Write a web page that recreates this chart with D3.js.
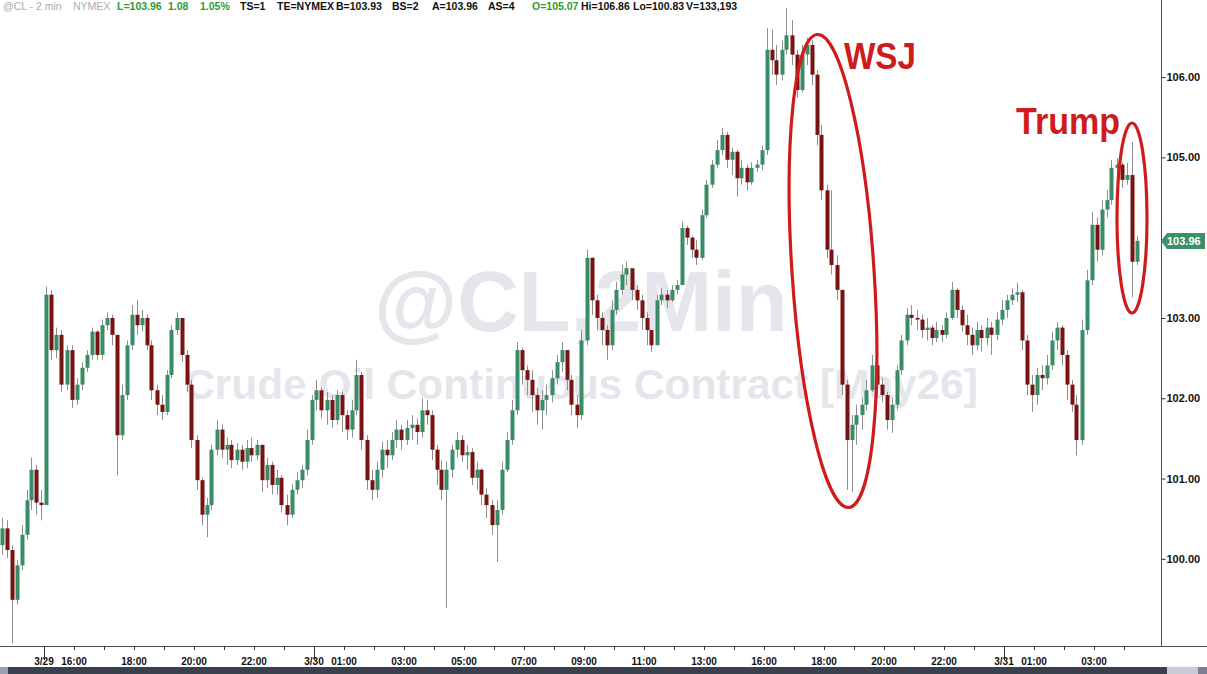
<!DOCTYPE html>
<html>
<head>
<meta charset="utf-8">
<script src="https://cdn.jsdelivr.net/npm/d3@7"></script>
<style>
  html, body { margin: 0; padding: 0; background: #fff; }
  svg { display: block; font-family: "Liberation Sans", Arial, sans-serif; }
</style>
</head>
<body>
<svg id="chart" width="1207" height="674"></svg>
<script>
// ---------- DATA (10-minute bars) ----------
const firstOpen = 100.17;
const closes = [
100.38,100.11,99.49,99.92,100.30,100.73,101.11,100.70,100.67,103.29,
102.60,102.79,102.17,102.60,101.98,102.17,102.38,102.54,102.83,102.54,
102.91,103.00,102.79,101.54,102.04,102.66,103.04,102.91,103.00,102.66,
102.10,101.92,101.83,102.29,102.85,103.00,102.54,102.17,101.48,100.98,
100.55,100.67,101.36,101.61,101.36,101.42,101.23,101.36,101.21,101.38,
101.29,101.42,100.98,101.17,100.92,101.01,100.67,100.55,100.86,100.98,
101.11,101.48,101.98,102.10,101.85,101.98,101.73,102.04,101.79,101.61,
101.85,102.29,101.48,100.98,100.86,101.11,101.36,101.29,101.48,101.61,
101.48,101.63,101.67,101.58,101.85,101.79,101.36,101.11,100.86,101.11,
101.36,101.48,101.29,101.33,101.01,101.11,100.80,100.67,100.42,100.61,
101.11,101.48,101.85,102.60,102.35,102.23,102.04,101.85,101.98,102.04,
102.25,102.45,102.60,102.23,101.92,101.79,102.72,103.75,103.22,103.00,
102.85,102.66,103.10,103.35,103.54,103.62,103.35,103.22,103.00,102.85,
102.66,103.22,103.29,103.22,103.35,103.41,104.12,104.00,103.85,103.75,
104.28,104.66,104.91,105.09,105.28,104.97,105.07,104.74,104.87,104.69,
104.87,104.91,105.09,106.34,106.21,106.03,106.34,106.52,106.28,105.84,
106.28,106.40,106.03,105.28,104.59,103.85,103.66,103.35,102.17,101.48,
101.67,101.79,101.92,102.10,102.41,102.17,102.04,101.73,101.92,102.35,
102.72,103.04,103.00,102.98,102.85,102.88,102.75,102.85,102.79,103.00,
103.35,103.10,102.91,102.79,102.66,102.85,102.75,102.88,102.79,102.98,
103.10,103.22,103.29,103.32,102.72,102.17,102.04,102.29,102.25,102.41,
102.72,102.88,102.54,102.17,101.92,101.48,102.85,103.47,104.16,103.85,
104.35,104.47,104.87,104.91,104.72,104.78,103.70,103.96
];
const highs = [
100.51,100.48,100.17,99.99,100.42,100.86,101.26,101.17,100.86,103.39,
103.35,102.88,102.85,102.66,102.66,102.25,102.45,102.60,102.88,102.85,
102.98,103.07,103.04,102.79,102.17,102.72,103.16,103.22,103.10,103.04,
102.72,102.17,102.04,102.35,102.91,103.07,102.98,102.60,102.23,101.54,
101.01,100.76,101.42,101.73,101.67,101.51,101.48,101.44,101.42,101.48,
101.51,101.48,101.42,101.26,101.21,101.11,101.04,100.80,100.93,101.08,
101.17,101.61,102.04,102.23,102.13,102.08,102.04,102.10,102.08,101.85,
101.98,102.48,102.33,101.54,101.11,101.21,101.46,101.48,101.58,101.73,
101.67,101.73,101.79,101.75,102.00,101.98,101.85,101.42,101.23,101.21,
101.42,101.58,101.54,101.42,101.38,101.21,101.13,100.88,100.73,100.73,
101.21,101.58,101.98,102.70,102.63,102.41,102.35,102.13,102.10,102.17,
102.35,102.54,102.70,102.60,102.29,102.04,102.85,103.85,103.70,103.29,
103.07,102.91,103.22,103.45,103.66,103.70,103.60,103.41,103.29,103.07,
102.85,103.29,103.37,103.35,103.41,103.47,104.20,104.15,104.02,103.97,
104.35,104.72,104.97,105.22,105.37,105.32,105.12,105.09,104.97,104.91,
104.94,104.97,105.15,106.61,106.59,106.40,106.46,106.86,106.71,106.34,
106.40,106.49,106.46,106.09,105.40,104.66,104.59,103.78,103.35,102.23,
101.79,101.92,102.00,102.23,102.54,102.48,102.25,102.08,102.00,102.41,
102.79,103.12,103.16,103.10,103.04,103.00,102.91,102.95,102.91,103.07,
103.45,103.37,103.16,103.04,102.88,102.95,102.91,103.00,102.95,103.07,
103.22,103.29,103.37,103.44,103.35,102.79,102.29,102.38,102.41,102.54,
102.83,102.95,102.91,102.60,102.23,102.04,102.98,103.60,104.32,104.25,
104.47,104.59,104.97,104.99,104.94,104.93,105.19,104.02
];
const lows = [
100.05,100.01,98.95,99.43,99.86,100.24,100.61,100.55,100.48,100.67,
102.48,102.50,102.08,102.10,101.88,101.92,102.10,102.33,102.48,102.48,
102.48,102.85,102.66,101.04,101.48,101.98,102.60,102.79,102.83,102.60,
101.98,101.79,101.73,101.79,102.25,102.79,102.45,102.08,101.38,100.86,
100.42,100.27,100.61,101.29,101.26,101.17,101.13,101.17,101.11,101.13,
101.21,101.23,100.83,100.88,100.80,100.80,100.58,100.42,100.51,100.80,
100.88,101.04,101.42,101.85,101.75,101.67,101.63,101.67,101.58,101.48,
101.51,101.79,101.36,100.86,100.73,100.76,101.01,101.13,101.23,101.38,
101.36,101.42,101.48,101.42,101.51,101.67,101.23,100.92,100.73,99.39,
101.01,101.26,101.21,101.11,100.92,100.86,100.67,100.51,100.30,99.96,
100.55,101.08,101.42,101.79,102.17,102.04,101.83,101.67,101.61,101.79,
101.95,102.17,102.33,102.10,101.79,101.63,101.73,102.66,103.04,102.85,
102.66,102.48,102.60,103.04,103.29,103.41,103.22,103.10,102.85,102.66,
102.58,102.79,103.16,103.12,103.20,103.29,103.41,103.91,103.75,103.66,
103.72,104.25,104.62,104.87,105.03,104.87,104.78,104.51,104.66,104.59,
104.66,104.82,104.84,105.03,106.03,105.90,105.96,106.28,106.15,105.74,
105.81,106.15,105.90,105.15,104.47,103.75,103.54,103.22,102.04,100.86,
100.83,101.42,101.61,101.85,102.08,102.04,101.95,101.61,101.57,101.85,
102.29,102.66,102.91,102.85,102.75,102.72,102.66,102.70,102.70,102.75,
102.98,103.00,102.83,102.66,102.54,102.60,102.58,102.66,102.54,102.72,
102.91,103.00,103.16,103.20,102.60,102.04,101.83,101.92,102.10,102.17,
102.35,102.60,102.41,101.98,101.83,101.29,101.42,102.79,103.41,103.70,
103.78,104.25,104.41,104.74,104.62,104.66,103.26,103.66
];
// axis
const priceTicks = [100, 101, 102, 103, 105, 106];
const hourTickIdx = d3.range(9, 226, 6);          // one tick per hour (bar index)
const timeLabelIdx = [15, 27, 39, 51, 69, 81, 93, 105, 117, 129, 141, 153, 165, 177, 189, 207, 219];
const timeLabels = ["16:00","18:00","20:00","22:00","01:00","03:00","05:00","07:00","09:00","11:00","13:00","16:00","18:00","20:00","22:00","01:00","03:00"];
const dateIdx = [9, 63, 201];
const dateLabels = ["3/29", "3/30", "3/31"];
const lastPrice = 103.96;
// header
const headerParts = [
  ["@CL - 2 min", 3, "#a9abb0", "normal"],
  ["NYMEX", 73, "#a9abb0", "normal"],
  ["L=103.96", 117, "#2f9a3a", "bold"],
  ["1.08", 168, "#2f9a3a", "bold"],
  ["1.05%", 200, "#2f9a3a", "bold"],
  ["TS=1", 240, "#111", "bold"],
  ["TE=NYMEX", 277, "#111", "bold"],
  ["B=103.93", 336, "#111", "bold"],
  ["BS=2", 392, "#111", "bold"],
  ["A=103.96", 432, "#111", "bold"],
  ["AS=4", 488, "#111", "bold"],
  ["O=105.07", 532, "#2f9a3a", "bold"],
  ["Hi=106.86", 581, "#111", "bold"],
  ["Lo=100.83", 633, "#111", "bold"],
  ["V=133,193", 686, "#111", "bold"]
];

// ---------- BUILD ----------
const bars = closes.map((c, i) => ({
  i, o: i === 0 ? firstOpen : closes[i - 1], c, h: highs[i], l: lows[i]
}));

const W = 1207, H = 674;
const plotRight = 1162, plotBottom = 646;
const svg = d3.select("#chart");

const x = d3.scaleLinear().domain([0, closes.length]).range([-1, 5 * closes.length - 1]);
const y = d3.scaleLinear().domain([98.915, 106.96]).range([plotBottom, 0]);

svg.append("defs").append("clipPath").attr("id", "plotclip")
  .append("rect").attr("x", 0).attr("y", 0).attr("width", plotRight).attr("height", plotBottom);

// watermarks
const wm = svg.append("g").attr("fill", "#e4e6ec").attr("font-weight", "bold").attr("text-anchor", "middle");
wm.append("text").attr("x", 581).attr("y", 331).attr("font-size", 85).text("@CL,2Min");
wm.append("text").attr("x", 581).attr("y", 399).attr("font-size", 42.4).text("Crude Oil Continuous Contract [May26]");

// candles
const plot = svg.append("g").attr("clip-path", "url(#plotclip)");
const upC = "#3a8c67", dnC = "#791313";
plot.append("g").selectAll("line").data(bars).join("line")
  .attr("x1", d => Math.round(x(d.i + 0.5)) + 0.5)
  .attr("x2", d => Math.round(x(d.i + 0.5)) + 0.5)
  .attr("y1", d => y(d.h)).attr("y2", d => y(d.l))
  .attr("stroke", "#8e8e8e").attr("stroke-width", 1);
plot.append("g").selectAll("rect").data(bars).join("rect")
  .attr("x", d => Math.round(x(d.i + 0.5)) - 1.5)
  .attr("width", 4)
  .attr("y", d => y(Math.max(d.o, d.c)))
  .attr("height", d => Math.max(1, Math.abs(y(d.o) - y(d.c))))
  .attr("fill", d => d.c >= d.o ? upC : dnC);

// right axis
svg.append("line").attr("x1", plotRight - 0.5).attr("x2", plotRight - 0.5)
  .attr("y1", 0).attr("y2", plotBottom).attr("stroke", "#4a4f58").attr("stroke-width", 1);
const yAxis = svg.append("g").attr("transform", `translate(${plotRight - 0.5},0)`)
  .call(d3.axisRight(y).tickValues(priceTicks).tickFormat(d3.format(".2f")).tickSize(4).tickPadding(1));
yAxis.select(".domain").remove();
yAxis.selectAll("line").attr("stroke", "#333");
yAxis.selectAll("text").attr("font-size", 11).attr("font-weight", "bold").attr("fill", "#111")
  .attr("font-family", '"Liberation Sans", Arial, sans-serif');

// last price marker
const ly = Math.round(y(lastPrice));
svg.append("path")
  .attr("d", `M${plotRight - 1},${ly} L${plotRight + 5},${ly - 8} L1205,${ly - 8} L1205,${ly + 8} L${plotRight + 5},${ly + 8} Z`)
  .attr("fill", "#3d8f69");
svg.append("text").attr("x", plotRight + 5).attr("y", ly).attr("dy", "0.36em")
  .attr("font-size", 11).attr("font-weight", "bold").attr("fill", "#fff").text(lastPrice.toFixed(2));

// bottom axis
svg.append("line").attr("x1", 0).attr("x2", W).attr("y1", plotBottom + 0.5).attr("y2", plotBottom + 0.5)
  .attr("stroke", "#4a4f58");
const xa = svg.append("g");
xa.selectAll("line.minor").data(hourTickIdx).join("line")
  .attr("x1", d => Math.round(x(d)) + 0.5).attr("x2", d => Math.round(x(d)) + 0.5)
  .attr("y1", plotBottom).attr("y2", d => dateIdx.includes(d) ? plotBottom + 14 : plotBottom + 4)
  .attr("stroke", "#333");
xa.selectAll("text.t").data(timeLabelIdx).join("text")
  .attr("x", d => x(d)).attr("y", 665).attr("text-anchor", "middle")
  .attr("font-size", 10).attr("font-weight", "bold").attr("fill", "#111")
  .text((d, k) => timeLabels[k]);
xa.selectAll("text.d").data(dateIdx).join("text")
  .attr("x", d => x(d)).attr("y", 665).attr("text-anchor", "middle")
  .attr("font-size", 10).attr("font-weight", "bold").attr("fill", "#111")
  .text((d, k) => dateLabels[k]);

// bottom scroll bar
svg.append("rect").attr("x", 0).attr("y", 667).attr("width", W).attr("height", 7).attr("fill", "#3a404d");
svg.append("rect").attr("x", 0).attr("y", 667).attr("width", 8).attr("height", 7).attr("fill", "#98a0b2");
svg.append("rect").attr("x", 1167).attr("y", 667).attr("width", 31).attr("height", 7).attr("fill", "#c9cbd6");
svg.append("rect").attr("x", 1198).attr("y", 667).attr("width", 9).attr("height", 7).attr("fill", "#7c8090");

// header
svg.append("g").selectAll("text").data(headerParts).join("text")
  .attr("x", d => d[1]).attr("y", 10).attr("font-size", 10.5)
  .attr("fill", d => d[2]).attr("font-weight", d => d[3]).text(d => d[0]);

// annotations
const red = "#cf1b1b";
svg.append("ellipse").attr("cx", 0).attr("cy", 0).attr("rx", 41).attr("ry", 237)
  .attr("transform", "translate(833,271) rotate(-3.8)")
  .attr("fill", "none").attr("stroke", red).attr("stroke-width", 3.2);
svg.append("ellipse").attr("cx", 1132).attr("cy", 218).attr("rx", 15).attr("ry", 95)
  .attr("fill", "none").attr("stroke", red).attr("stroke-width", 3.2);
svg.append("text").attr("x", 844).attr("y", 69).attr("font-size", 36).attr("font-weight", "bold")
  .attr("fill", red).attr("textLength", 72).attr("lengthAdjust", "spacingAndGlyphs").text("WSJ");
svg.append("text").attr("x", 1016).attr("y", 134).attr("font-size", 36).attr("font-weight", "bold")
  .attr("fill", red).attr("textLength", 104).attr("lengthAdjust", "spacingAndGlyphs").text("Trump");
</script>
</body>
</html>
